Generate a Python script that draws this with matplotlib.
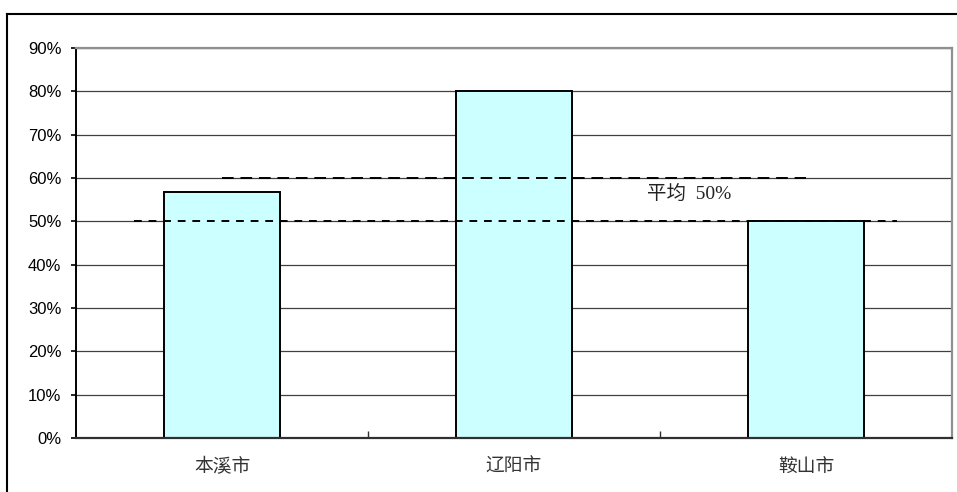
import matplotlib
matplotlib.use("Agg")
import matplotlib.pyplot as plt
from matplotlib.lines import Line2D
from matplotlib.ticker import FixedLocator, FuncFormatter

plt.rcParams['font.family'] = ['Noto Sans CJK SC', 'DejaVu Sans']

# Data
cities = ["本溪市", "辽阳市", "鞍山市"]
shares = [56.8, 80.0, 50.0]          # percent
average_value = 50.0                  # percent, labelled "平均 50%"
reference_value = 60.0                # percent, upper dashed guide
average_label = "平均  50%"
y_ticks = list(range(0, 100, 10))

fig = plt.figure(figsize=(9.57, 4.92), dpi=100)
ax = fig.add_axes([76 / 957, 54 / 492, 876 / 957, 390 / 492])

x = list(range(len(cities)))
ax.bar(x, shares, width=0.4, color="#CCFFFF", edgecolor="black",
       linewidth=1.4, zorder=3)

ax.set_xlim(-0.5, len(cities) - 0.5)
ax.set_ylim(0, 90)

# Horizontal grid lines
ax.yaxis.set_major_locator(FixedLocator(y_ticks))
ax.yaxis.set_major_formatter(FuncFormatter(lambda v, p: f"{int(v)}%"))
ax.grid(axis="y", color="#404040", linewidth=0.9, zorder=1)
ax.grid(axis="x", visible=False)

# Dashed guide lines
ax.plot([0, 2], [reference_value, reference_value], color="black",
        linestyle=(0, (6, 3.5)), linewidth=1.4, zorder=4)
ax.plot([-0.3, 2.31], [average_value, average_value], color="black",
        linestyle=(0, (4, 3.5)), linewidth=1.4, zorder=4)
ax.text(1.6, 56.3, average_label, ha="center", va="center", fontsize=14,
        family=["Liberation Serif", "Noto Sans CJK SC"], color="#222222",
        zorder=5)

# Axes styling
for side in ("top", "right"):
    ax.spines[side].set_color("#909090")
    ax.spines[side].set_linewidth(1.6)
ax.spines["left"].set_color("black")
ax.spines["left"].set_linewidth(1.4)
ax.spines["bottom"].set_color("#303030")
ax.spines["bottom"].set_linewidth(1.6)
for s in ax.spines.values():
    s.set_zorder(6)

ax.tick_params(axis="y", direction="out", length=3.5, width=1.2, pad=7,
               labelsize=12, colors="black")
for lbl in ax.get_yticklabels():
    lbl.set_family(["Liberation Sans", "DejaVu Sans"])

ax.set_xticks(x)
ax.set_xticklabels(cities, fontsize=13.5, color="#333333")
ax.tick_params(axis="x", which="major", length=0, pad=13)
ax.xaxis.set_minor_locator(FixedLocator([0.5, 1.5]))
ax.tick_params(axis="x", which="minor", direction="in", length=5,
               width=1.0, color="#303030")

# Outer chart frame (left and top edges)
fig.add_artist(Line2D([7 / 957, 7 / 957], [0, 1 - 14 / 492],
                      transform=fig.transFigure, color="black", linewidth=1.5))
fig.add_artist(Line2D([7 / 957, 1.0], [1 - 14 / 492, 1 - 14 / 492],
                      transform=fig.transFigure, color="black", linewidth=1.5))

fig.savefig("out.png", dpi=100)
